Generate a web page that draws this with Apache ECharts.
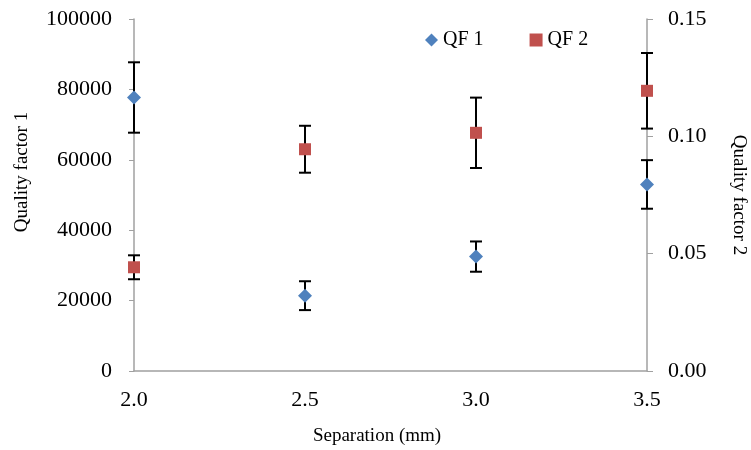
<!DOCTYPE html>
<html><head><meta charset="utf-8">
<script src="https://cdn.jsdelivr.net/npm/echarts@6/dist/echarts.min.js"></script>
<style>html,body{margin:0;padding:0;background:#fff}#c{width:751px;height:450px}</style>
</head><body><div id="c"></div>
<script>
var separation = [2.0, 2.5, 3.0, 3.5];
var qf1 = [77700, 21400, 32500, 53000];
var qf1Err = [10000, 4100, 4300, 6900];
var qf2 = [0.0442, 0.0945, 0.1015, 0.1194];
var qf2Err = [0.0051, 0.0100, 0.0150, 0.0161];
var leftTicks = [0, 20000, 40000, 60000, 80000, 100000];
var rightTicks = [0, 0.05, 0.10, 0.15];

var font = 'Liberation Serif';
function errData(vals, errs) {
  return separation.map(function (x, i) { return [x, vals[i] - errs[i], vals[i] + errs[i]]; });
}
function renderErr(params, api) {
  var x = api.value(0);
  var lo = api.coord([x, api.value(1)]);
  var hi = api.coord([x, api.value(2)]);
  var w = 6;
  var st = { stroke: '#000', lineWidth: 2 };
  return { type: 'group', children: [
    { type: 'line', shape: { x1: lo[0], y1: lo[1], x2: hi[0], y2: hi[1] }, style: st },
    { type: 'line', shape: { x1: lo[0] - w, y1: lo[1], x2: lo[0] + w, y2: lo[1] }, style: st },
    { type: 'line', shape: { x1: hi[0] - w, y1: hi[1], x2: hi[0] + w, y2: hi[1] }, style: st }
  ]};
}
var chart = echarts.init(document.getElementById('c'));
chart.setOption({
  animation: false,
  textStyle: { fontFamily: font },
  grid: { left: 134, right: 104, top: 19, bottom: 79, outerBoundsMode: 'none', containLabel: false },
  legend: {
    data: [{ name: 'QF 1', icon: 'diamond' }, { name: 'QF 2', icon: 'rect' }],
    top: 30, left: 425, itemWidth: 13, itemHeight: 13, itemGap: 46, padding: 0,
    textStyle: { fontFamily: font, fontSize: 20, color: '#000' }
  },
  xAxis: {
    type: 'value', min: 2.0, max: 3.5, interval: 0.5,
    name: 'Separation (mm)', nameLocation: 'middle', nameGap: 56,
    nameTextStyle: { fontFamily: font, fontSize: 19, color: '#000', padding: [0, 27, 0, 0] },
    axisLine: { lineStyle: { color: '#A0A0A0', width: 1.5 } },
    axisTick: { show: false },
    axisLabel: { fontFamily: font, fontSize: 22, color: '#000', margin: 18,
      formatter: function (v) { return v.toFixed(1); } },
    splitLine: { show: false }
  },
  yAxis: [{
    type: 'value', min: leftTicks[0], max: leftTicks[leftTicks.length - 1], interval: 20000,
    name: 'Quality factor 1', nameLocation: 'middle', nameGap: 102, nameRotate: 90,
    nameTextStyle: { fontFamily: font, fontSize: 19, color: '#000', padding: [0, 0, 0, 46] },
    axisLine: { show: true, lineStyle: { color: '#A0A0A0', width: 1.5 } },
    axisTick: { show: true, length: 5, lineStyle: { color: '#A0A0A0' } },
    axisLabel: { fontFamily: font, fontSize: 22, color: '#000', margin: 22,
      formatter: function (v) { return String(v); } },
    splitLine: { show: false }
  }, {
    type: 'value', min: rightTicks[0], max: rightTicks[rightTicks.length - 1], interval: 0.05,
    name: 'Quality factor 2', nameLocation: 'middle', nameGap: 82, nameRotate: -90,
    nameTextStyle: { fontFamily: font, fontSize: 19, color: '#000' },
    axisLine: { show: true, lineStyle: { color: '#A0A0A0', width: 1.5 } },
    axisTick: { show: true, length: 6, lineStyle: { color: '#A0A0A0' } },
    axisLabel: { fontFamily: font, fontSize: 22, color: '#000', margin: 21,
      formatter: function (v) { return v.toFixed(2); } },
    splitLine: { show: false }
  }],
  series: [
    { type: 'custom', name: 'err1', yAxisIndex: 0, renderItem: renderErr, data: errData(qf1, qf1Err), z: 1, silent: true },
    { type: 'custom', name: 'err2', yAxisIndex: 1, renderItem: renderErr, data: errData(qf2, qf2Err), z: 1, silent: true },
    { type: 'scatter', name: 'QF 1', yAxisIndex: 0, symbol: 'diamond', symbolSize: 14,
      itemStyle: { color: '#4F81BD', opacity: 1 }, z: 5,
      data: separation.map(function (x, i) { return [x, qf1[i]]; }) },
    { type: 'scatter', name: 'QF 2', yAxisIndex: 1, symbol: 'rect', symbolSize: 12,
      itemStyle: { color: '#C0504D', opacity: 1 }, z: 5,
      data: separation.map(function (x, i) { return [x, qf2[i]]; }) }
  ]
});
</script></body></html>
